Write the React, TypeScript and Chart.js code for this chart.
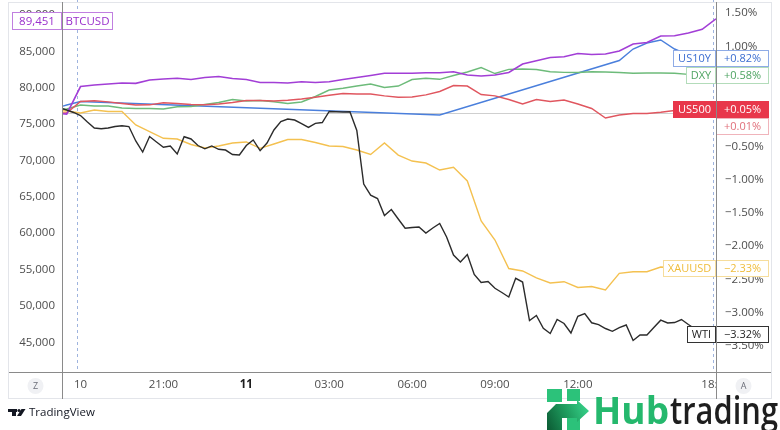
import React, { useEffect, useRef } from 'react';
import { Chart, registerables } from 'chart.js';

Chart.register(...registerables);

const FONT = "'Open Sans', 'DejaVu Sans', sans-serif";

// Time axis: hours after the 18:00 session open on the 10th (17:00-18:00 break skipped)
const times30 = Array.from({ length: 49 }, (_, i) => -1 + i * 0.5);
const times15 = Array.from({ length: 96 }, (_, i) => -0.75 + i * 0.25);

const timeTicks = [0, 3, 6, 9, 12, 15, 18, 23];
const timeTickLabels = ['10', '21:00', '11', '03:00', '06:00', '09:00', '12:00', '18:00'];
const sessionBreaks = [-0.125, 22.875];
const priceTicks = [45000, 50000, 55000, 60000, 65000, 70000, 75000, 80000, 85000, 90000];
const pctTicks = [-3.5, -3, -2.5, -2, -1.5, -1, -0.5, 0, 0.5, 1, 1.5];

// BTCUSD price (left scale), 30-min
const btcusd = [76510, 76370, 80150, 80360, 80500, 80630, 80590, 81050, 81180, 81280, 81110, 81390,
  81530, 81250, 81110, 80700, 80700, 80630, 80810, 80700, 80810, 81110, 81390, 81660, 81970, 81970,
  81970, 82050, 82050, 82190, 81730, 81600, 81730, 82080, 83240, 83700, 84140, 84250, 84690, 84550,
  84620, 85030, 85990, 86200, 87090, 87130, 87500, 88010, 89451];

// % change series (right scale), 30-min
const us10y = [0.06, 0.12, 0.173,
  null, null, null, null, null, null, null, null, null, null, null, null, null,
  null, null, null, null, null, null, null, null, null, null, null, null,
  -0.03,
  null, null, null, null, null, null, null, null, null, null, null, null,
  0.788, 0.961, 1.051, 1.096, 0.961, 0.871, 0.826, 0.82];
const dxy = [0.045, 0.06, 0.12, 0.105, 0.105, 0.075, 0.068, 0.068, 0.06, 0.095, 0.098, 0.128, 0.158,
  0.203, 0.18, 0.188, 0.17, 0.143, 0.165, 0.248, 0.345, 0.371, 0.405, 0.435, 0.383, 0.405, 0.503,
  0.521, 0.506, 0.563, 0.616, 0.683, 0.593, 0.656, 0.661, 0.653, 0.619, 0.61, 0.608, 0.619, 0.616,
  0.608, 0.596, 0.601, 0.601, 0.596, 0.58, 0.58, 0.58];
const us500 = [0, 0, 0.173, 0.185, 0.168, 0.143, 0.12, 0.123, 0.155, 0.143, 0.128, 0.123, 0.135,
  0.158, 0.188, 0.188, 0.18, 0.192, 0.21, 0.236, 0.266, 0.293, 0.285, 0.285, 0.258, 0.236, 0.24,
  0.273, 0.323, 0.413, 0.405, 0.278, 0.258, 0.203, 0.135, 0.203, 0.173, 0.195, 0.135, 0.068, -0.075,
  -0.03, -0.008, -0.008, 0.011, 0.038, 0.045, 0.045, 0.05];
const xauusd = [0.045, 0.03, 0, 0.045, 0.023, 0.023, -0.18, -0.278, -0.38, -0.39, -0.473, -0.526,
  -0.495, -0.45, -0.435, -0.53, -0.465, -0.398, -0.398, -0.443, -0.495, -0.503, -0.556, -0.623, -0.45,
  -0.631, -0.721, -0.751, -0.856, -0.815, -1.021, -1.622, -1.907, -2.335, -2.372, -2.477, -2.553,
  -2.533, -2.62, -2.605, -2.658, -2.407, -2.383, -2.383, -2.312, -2.327, -2.33, -2.33, -2.33];
// WTI, 15-min
const wti = [0.08, 0.045, 0.008, -0.038, -0.135, -0.225, -0.237, -0.225, -0.203, -0.191,
  -0.203, -0.42, -0.586, -0.353, -0.435, -0.515, -0.495, -0.616, -0.356, -0.39,
  -0.488, -0.538, -0.495, -0.545, -0.556, -0.623, -0.631, -0.488, -0.405, -0.566,
  -0.45, -0.255, -0.128, -0.09, -0.105, -0.158, -0.215, -0.155, -0.143, 0.023,
  0.02, 0.015, 0.02, -0.263, -1.066, -1.234, -1.284, -1.539, -1.449, -1.592,
  -1.731, -1.719, -1.712, -1.802, -1.727, -1.659, -1.862, -2.132, -2.237, -2.125,
  -2.425, -2.545, -2.53, -2.632, -2.695, -2.763, -2.482, -2.538, -3.116, -3.041,
  -3.233, -3.311, -3.099, -3.161, -3.303, -3.053, -3.011, -3.15, -3.177, -3.236,
  -3.278, -3.221, -3.183, -3.416, -3.333, -3.333, -3.221, -3.111, -3.153, -3.146,
  -3.101, -3.176, -3.243, -3.303, -3.318, -3.32];
const extraChange = 0.01;

const COLORS = {
  btc: '#a23ed6', us10y: '#4a7fdc', dxy: '#6dbb7a', us500: '#e0565f', xau: '#f4c150', wti: '#2b2b2b',
};

const last = (arr: (number | null)[]) => arr[arr.length - 1] as number;
const fmtPct = (v: number) => (v < 0 ? '\u2212' : '') + Math.abs(v).toFixed(2) + '%';
const fmtChg = (v: number) => (v < 0 ? '\u2212' : '+') + Math.abs(v).toFixed(2) + '%';
const zip = (ts: number[], vs: (number | null)[]) => ts.map((t, i) => ({ x: t, y: vs[i] }));

function box(ctx: CanvasRenderingContext2D, x: number, y: number, w: number, h: number,
  fill: string, stroke: string | null, text: string, color: string, font: string) {
  ctx.fillStyle = fill;
  ctx.fillRect(x, y, w, h);
  if (stroke) {
    ctx.strokeStyle = stroke;
    ctx.lineWidth = 1;
    ctx.strokeRect(x + 0.5, y + 0.5, w - 1, h - 1);
  }
  ctx.fillStyle = color;
  ctx.font = font;
  ctx.textAlign = 'center';
  ctx.textBaseline = 'middle';
  ctx.fillText(text, x + w / 2, y + h / 2 + 0.5);
}

const noPad = (s: any) => { s.paddingTop = 0; s.paddingBottom = 0; s.paddingLeft = 0; s.paddingRight = 0; };

const overlay = {
  id: 'overlay',
  beforeDatasetsDraw(chart: any) {
    const { ctx, chartArea: a, scales } = chart;
    ctx.save();
    const y0 = Math.round(scales.yR.getPixelForValue(0)) + 0.5;
    ctx.strokeStyle = '#cfcfcf';
    ctx.lineWidth = 1;
    ctx.beginPath(); ctx.moveTo(a.left, y0); ctx.lineTo(a.right, y0); ctx.stroke();
    ctx.setLineDash([3, 3]);
    ctx.strokeStyle = '#9fb4de';
    for (const t of sessionBreaks) {
      const px = Math.round(scales.x.getPixelForValue(t)) + 0.5;
      ctx.beginPath(); ctx.moveTo(px, a.top); ctx.lineTo(px, a.bottom); ctx.stroke();
    }
    ctx.restore();
  },
  afterDraw(chart: any) {
    const { ctx, chartArea: a, scales } = chart;
    const W = chart.width;
    ctx.save();
    // hide the part of the last time label under the price scale
    ctx.fillStyle = '#ffffff';
    ctx.fillRect(a.right + 1, a.bottom + 1, W - a.right, 25);

    // right-side labels
    const items = [
      { name: 'US10Y', v: last(us10y), fill: '#fff', stroke: '#8eabe6', color: '#3b6dd0' },
      { name: 'DXY', v: last(dxy), fill: '#fff', stroke: '#b3dcba', color: '#4fa463' },
      { name: 'US500', v: last(us500), fill: '#e8374b', stroke: null, color: '#ffffff' },
      { name: '', v: extraChange, fill: '#fff', stroke: '#f0b4bb', color: '#e0707b' },
      { name: 'XAUUSD', v: last(xauusd), fill: '#fff', stroke: '#f6dd9c', color: '#efbc3a' },
      { name: 'WTI', v: last(wti), fill: '#fff', stroke: '#333333', color: '#1e1e1e' },
    ].map((it) => ({ ...it, py: scales.yR.getPixelForValue(it.v) }))
      .sort((p, q) => p.py - q.py);
    const lf = `11px ${FONT}`;
    const H = 17;
    let prevBottom = -Infinity;
    for (const it of items) {
      let top = Math.round(it.py - H / 2);
      if (top < prevBottom) top = prevBottom;
      prevBottom = top + H;
      ctx.font = lf;
      if (it.name) {
        const w = Math.round(ctx.measureText(it.name).width + 10);
        box(ctx, a.right - w, top, w, H, it.fill, it.stroke, it.name, it.color, lf);
      }
      box(ctx, a.right, top, 53, H, it.fill, it.stroke, fmtChg(it.v), it.color, lf);
    }

    // BTC label on the left scale
    const bf = `11.5px ${FONT}`;
    const by = Math.round(scales.yL.getPixelForValue(last(btcusd)) - 9 + 2);
    box(ctx, 12, by, a.left - 12, 18, '#fff', '#c07fe0', last(btcusd).toLocaleString('en-US'), '#9a30cc', bf);
    box(ctx, a.left, by, 51, 18, '#fff', '#c07fe0', 'BTCUSD', '#9a30cc', bf);

    // frame and axis separators
    ctx.strokeStyle = '#e3e5ea';
    ctx.lineWidth = 1;
    ctx.strokeRect(8.5, 2.5, W - 17, 396);
    ctx.strokeStyle = '#8a8a8a';
    ctx.beginPath();
    ctx.moveTo(a.left + 0.5, 2); ctx.lineTo(a.left + 0.5, 399);
    ctx.moveTo(a.right + 0.5, 2); ctx.lineTo(a.right + 0.5, 399);
    ctx.moveTo(9, a.bottom + 0.5); ctx.lineTo(W - 9, a.bottom + 0.5);
    ctx.stroke();

    // Z / A buttons
    const btn = (cx: number, cy: number, t: string) => {
      ctx.fillStyle = '#f0f1f4';
      ctx.beginPath(); ctx.arc(cx, cy, 8, 0, Math.PI * 2); ctx.fill();
      ctx.fillStyle = '#6a6d78';
      ctx.font = `9px ${FONT}`;
      ctx.textAlign = 'center'; ctx.textBaseline = 'middle';
      ctx.fillText(t, cx, cy + 0.5);
    };
    btn(35.5, 386, 'Z');
    btn(743.5, 386, 'A');

    // TradingView logo
    ctx.fillStyle = '#131722';
    ctx.fillRect(8, 409, 9, 3);
    ctx.fillRect(12, 409, 4, 7);
    ctx.beginPath(); ctx.arc(19, 410.5, 1.6, 0, Math.PI * 2); ctx.fill();
    ctx.beginPath();
    ctx.moveTo(21.5, 409); ctx.lineTo(25.5, 409); ctx.lineTo(21, 416); ctx.lineTo(17, 416);
    ctx.closePath(); ctx.fill();
    ctx.font = `11.5px ${FONT}`;
    ctx.textAlign = 'left'; ctx.textBaseline = 'middle';
    ctx.fillText('TradingView', 29, 413);

    // Hubtrading logo
    const g1 = '#2cc27a';
    ctx.fillStyle = g1;
    ctx.fillRect(547, 389, 15, 13);
    ctx.fillRect(567, 389, 13, 12);
    ctx.fillRect(567, 417, 13, 13);
    const grad = ctx.createLinearGradient(547, 430, 589, 411);
    grad.addColorStop(0, '#0b5a33');
    grad.addColorStop(0.55, '#1f9d5f');
    grad.addColorStop(1, '#36d088');
    ctx.fillStyle = grad;
    ctx.beginPath();
    ctx.moveTo(547, 430); ctx.lineTo(547, 413); ctx.lineTo(556, 404); ctx.lineTo(577, 404);
    ctx.lineTo(577, 400); ctx.lineTo(589, 411); ctx.lineTo(577, 422); ctx.lineTo(577, 418);
    ctx.lineTo(562, 418); ctx.lineTo(562, 430);
    ctx.closePath(); ctx.fill();
    ctx.textAlign = 'left'; ctx.textBaseline = 'alphabetic';
    ctx.font = `bold 37px ${FONT}`;
    ctx.fillStyle = '#25b86d';
    ctx.fillText('Hub', 593, 424);
    ctx.font = `600 37px ${FONT}`;
    const tw = ctx.measureText('trading').width;
    ctx.save();
    ctx.translate(670, 424);
    ctx.scale(108 / tw, 1);
    ctx.fillStyle = '#1e1e1e';
    ctx.fillText('trading', 0, 0);
    ctx.restore();
    ctx.restore();
  },
};

export default function App() {
  const ref = useRef<HTMLCanvasElement | null>(null);
  useEffect(() => {
    document.body.style.margin = '0';
    const canvas = ref.current!;
    const line = (label: string, data: any[], color: string, axis: string, width = 1.4) => ({
      label, data, borderColor: color, backgroundColor: color, borderWidth: width,
      pointRadius: 0, tension: 0, yAxisID: axis, spanGaps: true,
    });
    const chart = new Chart(canvas, {
      type: 'line',
      data: {
        datasets: [
          line('WTI', zip(times15, wti), COLORS.wti, 'yR'),
          line('BTCUSD', zip(times30, btcusd), COLORS.btc, 'yL', 1.6),
          line('XAUUSD', zip(times30, xauusd), COLORS.xau, 'yR'),
          line('US500', zip(times30, us500), COLORS.us500, 'yR'),
          line('DXY', zip(times30, dxy), COLORS.dxy, 'yR'),
          line('US10Y', zip(times30, us10y), COLORS.us10y, 'yR'),
        ],
      },
      options: {
        responsive: false,
        animation: false,
        devicePixelRatio: 1,
        layout: { padding: 0 },
        plugins: { legend: { display: false }, tooltip: { enabled: false } },
        scales: {
          x: {
            type: 'linear', min: -0.67, max: 23,
            grid: { display: false, drawTicks: false }, border: { display: false },
            afterBuildTicks: (s: any) => { s.ticks = timeTicks.map((v) => ({ value: v })); },
            afterFit: (s: any) => { s.height = 58; noPad(s); },
            ticks: {
              autoSkip: false, maxRotation: 0, padding: 6,
              callback: (v: any) => timeTickLabels[timeTicks.indexOf(Number(v))] ?? '',
              color: (c: any) => (c.tick && c.tick.value === 6 ? '#1e1e1e' : '#4d4d4d'),
              font: (c: any) => ({ family: FONT, size: 11.5, weight: c.tick && c.tick.value === 6 ? 'bold' : 'normal' }),
            },
          },
          yL: {
            type: 'linear', position: 'left', min: 40925, max: 92040,
            grid: { display: false, drawTicks: false }, border: { display: false },
            afterBuildTicks: (s: any) => { s.ticks = priceTicks.map((v) => ({ value: v })); },
            afterFit: (s: any) => { s.width = 62; noPad(s); },
            ticks: {
              padding: 7, color: '#4d4d4d', font: { family: FONT, size: 11.5 },
              callback: (v: any) => Number(v).toLocaleString('en-US'),
            },
          },
          yR: {
            type: 'linear', position: 'right', min: -3.889, max: 1.697,
            grid: { display: false, drawTicks: false }, border: { display: false },
            afterBuildTicks: (s: any) => { s.ticks = pctTicks.map((v) => ({ value: v })); },
            afterFit: (s: any) => { s.width = 64; noPad(s); },
            ticks: {
              padding: 9, color: '#4d4d4d', font: { family: FONT, size: 11.5 },
              callback: (v: any) => fmtPct(Number(v)),
            },
          },
        },
      },
      plugins: [overlay],
    } as any);
    return () => chart.destroy();
  }, []);
  return <canvas ref={ref} width={780} height={430} style={{ display: 'block' }} />;
}
